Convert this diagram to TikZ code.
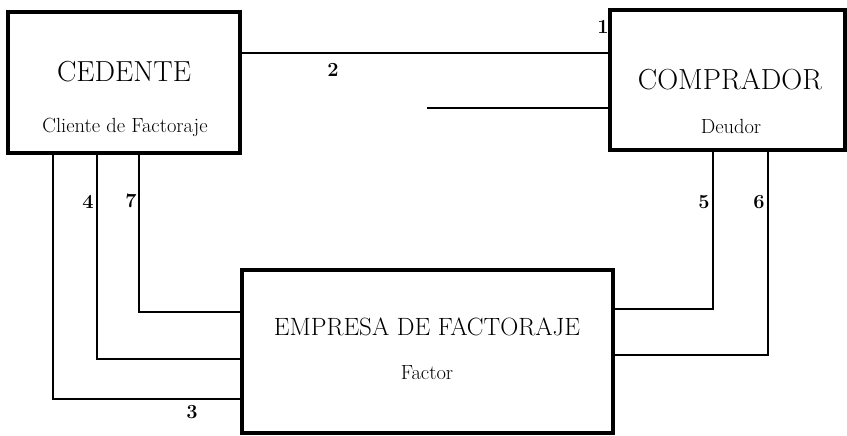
\documentclass[tikz,border=0pt]{standalone}
\usepackage{fontspec}
\usepackage{tikz}

\tikzset{
  caja/.style={draw, line width=3.8pt, inner sep=0pt},
  linea/.style={line width=1.7pt},
  titulo/.style={font=\fontsize{29}{31}\selectfont},
  sub/.style={font=\fontsize{20.5}{22}\selectfont},
  num/.style={font=\fontsize{20}{22}\selectfont\bfseries, inner sep=1pt}
}

\begin{document}
\begin{tikzpicture}[x=1pt,y=-1pt]
   \useasboundingbox (0,0) rectangle (847,436);
   % cajas
   \node[caja, minimum width=232pt, minimum height=141pt] (cedente) at (124,82.5) {};
   \node[caja, minimum width=235pt, minimum height=140pt] (comprador) at (727.5,80) {};
   \node[caja, minimum width=371pt, minimum height=163pt] (empresa) at (427.5,351.5) {};
   \node[titulo] (t1) at (124,72) {CEDENTE};
   \node[sub] (s1) at (125,127) {Cliente de Factoraje};
   \node[titulo] (t2) at (730,79) {COMPRADOR};
   \node[sub] (s2) at (731,126) {Deudor};
   \node[titulo, font=\fontsize{25}{27}\selectfont] (t3) at (427,327) {EMPRESA DE FACTORAJE};
   \node[sub] (s3) at (427,373) {Factor};
   % conectores
   \coordinate (d) at (427,108);
   \draw[linea] (cedente.east |- 0,53) -- (comprador.west |- 0,53);
   \draw[linea] (d) -- (d -| comprador.west);
   \draw[linea] (cedente.south -| 53,0) |- (empresa.west |- 0,399);
   \draw[linea] (cedente.south -| 97,0) |- (empresa.west |- 0,359);
   \draw[linea] (cedente.south -| 139,0) |- (empresa.west |- 0,312);
   \draw[linea] (comprador.south -| 713,0) |- (empresa.east |- 0,309);
   \draw[linea] (comprador.south -| 768,0) |- (empresa.east |- 0,355);
   % numeros
   \node[num] (n1) at (603,27) {1};
   \node[num] (n2) at (333,70) {2};
   \node[num] (n3) at (192,412) {3};
   \node[num] (n4) at (88,202) {4};
   \node[num] (n5) at (704,202) {5};
   \node[num] (n6) at (759,202) {6};
   \node[num] (n7) at (131,201) {7};
\end{tikzpicture}
\end{document}
